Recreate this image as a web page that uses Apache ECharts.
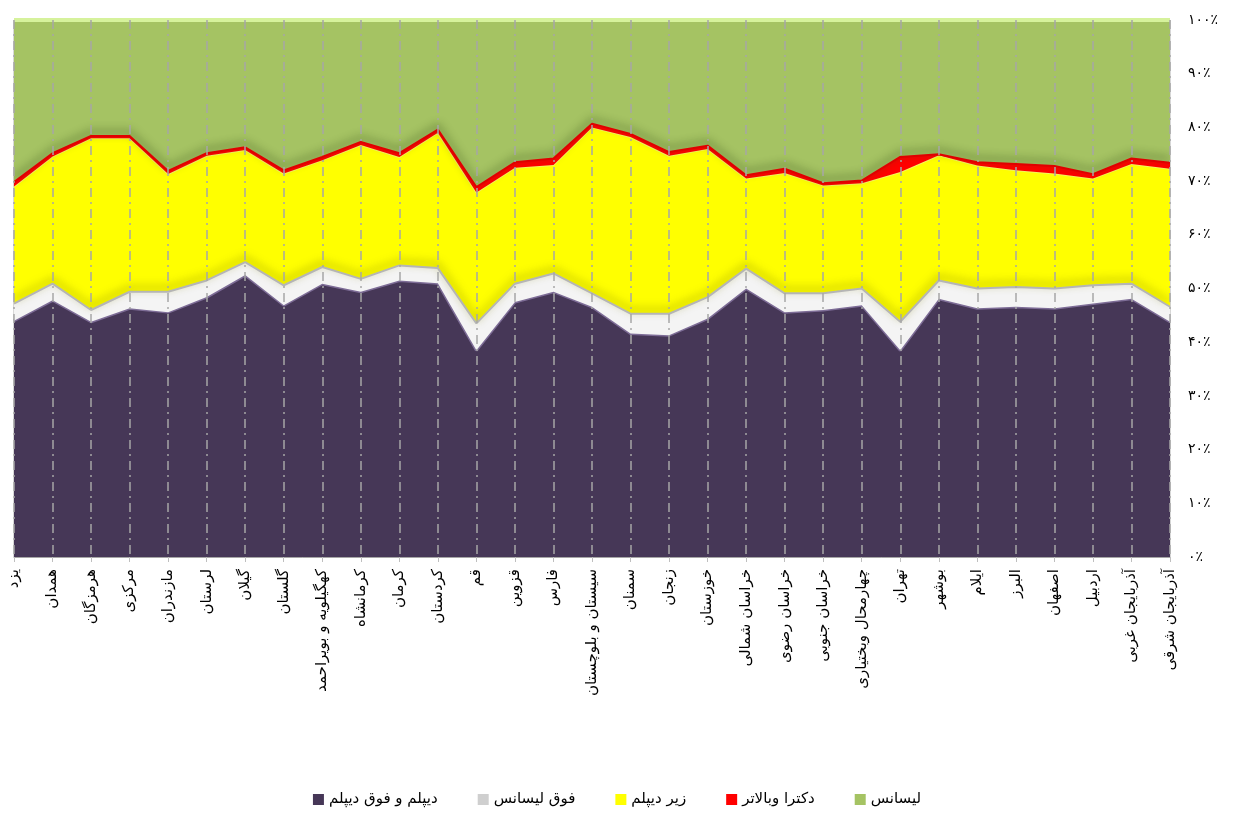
<!DOCTYPE html>
<html>
<head>
<meta charset="utf-8">
<title>chart</title>
<script src="https://cdn.jsdelivr.net/npm/echarts@6/dist/echarts.min.js"></script>
<style>
	html, body { margin: 0; padding: 0; background: #FFFFFF; }
	#div1 { width: 1234px; height: 820px; }
</style>
</head>
<body>
<div id="div1"></div>
<script>
	// استان ها
	var provinces = [ 'یزد', 'همدان', 'هرمزگان', 'مرکزی', 'مازندران', 'لرستان', 'گیلان', 'گلستان', 'کهگیلویه و بویراحمد', 'کرمانشاه', 'کرمان', 'کردستان', 'قم', 'قزوین', 'فارس',
			'سیستان و بلوچستان', 'سمنان', 'زنجان', 'خوزستان', 'خراسان شمالی', 'خراسان رضوی', 'خراسان جنوبی', 'چهارمحال وبختیاری', 'تهران', 'بوشهر', 'ایلام', 'البرز', 'اصفهان',
			'اردبیل', 'آذربایجان غربی', 'آذربایجان شرقی' ];
	var seriesNames = [ 'دیپلم و فوق دیپلم', 'فوق لیسانس', 'زیر دیپلم', 'دکترا وبالاتر', 'لیسانس' ];
	// درصدها (سهم هر گروه)
	var arr_diplom = [ 44.0, 47.8, 43.8, 46.3, 45.6, 48.4, 52.5, 46.9, 50.9, 49.4, 51.5, 51.0, 38.5, 47.5, 49.4, 46.6, 41.6, 41.3, 44.4, 50.0, 45.6, 46.0, 46.9, 38.5, 48.1, 46.3, 46.6, 46.3, 47.2,
			48.1, 43.8 ];
	var arr_foghLisans = [ 3.2, 3.1, 2.2, 3.1, 3.8, 3.1, 2.4, 3.7, 3.1, 2.4, 2.8, 2.8, 5.0, 3.4, 3.4, 2.5, 3.7, 4.0, 4.0, 3.7, 3.5, 3.1, 3.1, 5.3, 3.4, 3.7, 3.7, 3.7, 3.4, 2.8, 2.8 ];
	var arr_zirDiplom = [ 21.8, 23.7, 32.0, 28.6, 21.9, 23.2, 20.9, 20.8, 19.9, 24.9, 20.2, 25.2, 24.4, 21.6, 20.2, 30.9, 32.9, 29.4, 27.6, 16.8, 22.4, 20.1, 19.6, 27.9, 23.3, 22.9, 21.7, 21.4,
			19.9, 22.3, 25.7 ];
	var arr_doktora = [ 0.8, 0.6, 0.4, 0.4, 0.6, 0.5, 0.5, 0.6, 0.6, 0.6, 0.7, 0.6, 1.0, 1.0, 1.2, 0.7, 0.6, 0.7, 0.6, 0.6, 0.8, 0.4, 0.5, 2.8, 0.2, 0.6, 1.2, 1.4, 0.8, 1.0, 1.1 ];
	var arr_lisans = [ 30.2, 24.8, 21.6, 21.6, 28.1, 24.8, 23.7, 28.0, 25.5, 22.7, 24.8, 20.4, 31.1, 26.5, 25.8, 19.3, 21.2, 24.6, 23.4, 28.9, 27.7, 30.4, 29.9, 25.5, 25.0, 26.5, 26.8, 27.2,
			28.7, 25.8, 26.6 ];
	var yLabels = [ '۰٪', '۱۰٪', '۲۰٪', '۳۰٪', '۴۰٪', '۵۰٪', '۶۰٪', '۷۰٪', '۸۰٪', '۹۰٪', '۱۰۰٪' ];

	var fontName = 'DejaVu Sans';

	// سری مساحتی انباشته با لبه سایه دار
	function makeSeries(name, data, fill, legendColor, edge, edgeWidth, shadow, z) {
		return {
			name : name,
			type : 'line',
			stack : 'total',
			data : data,
			symbol : 'none',
			z : z,
			lineStyle : {
				color : edge,
				width : edgeWidth,
				shadowColor : shadow || 'rgba(0,0,0,0)',
				shadowBlur : shadow ? 8 : 0,
				shadowOffsetY : shadow ? -4 : 0
			},
			areaStyle : {
				color : fill,
				opacity : 1
			},
			itemStyle : {
				color : legendColor,
				borderWidth : 0
			}
		};
	}

	var option = {
		backgroundColor : '#FFFFFF',
		animation : false,
		textStyle : {
			fontFamily : fontName
		},
		legend : {
			data : seriesNames,
			bottom : 8,
			left : 'center',
			itemWidth : 11,
			itemHeight : 11,
			itemGap : 40,
			icon : 'rect',
			textStyle : {
				fontFamily : fontName,
				fontSize : 15,
				color : '#000000'
			}
		},
		grid : {
			show : true,
			left : 14,
			right : 64,
			top : 20,
			bottom : 263,
			borderColor : '#B0B0B0',
			borderWidth : 1,
			containLabel : false
		},
		xAxis : [ {
			type : 'category',
			data : provinces,
			boundaryGap : false,
			z : 10,
			axisLine : {
				lineStyle : {
					color : '#A6A6A6'
				}
			},
			axisTick : {
				show : true,
				length : 5,
				lineStyle : {
					color : '#BFBFBF'
				}
			},
			axisLabel : {
				rotate : 90,
				margin : 12,
				interval : 0,
				fontFamily : fontName,
				fontSize : 15,
				color : '#000000'
			},
			splitLine : {
				show : true,
				lineStyle : {
					color : '#A6A6A6',
					width : 1.5,
					type : [ 9, 5, 2, 5 ]
				}
			}
		} ],
		yAxis : [ {
			type : 'value',
			position : 'right',
			min : 0,
			max : 100,
			interval : 10,
			axisLine : {
				show : false
			},
			axisTick : {
				show : false
			},
			splitLine : {
				show : false
			},
			axisLabel : {
				margin : 18,
				fontFamily : fontName,
				fontSize : 14,
				color : '#000000',
				formatter : function(v) {
					return yLabels[Math.round(v / 10)];
				}
			}
		} ],
		series : [ makeSeries(seriesNames[0], arr_diplom, '#463757', '#463757', '#7D6C96', 3, null, 2),
				makeSeries(seriesNames[1], arr_foghLisans, '#F4F4F4', '#CFCFCF', '#B5B5B5', 2, 'rgba(130,130,0,0.85)', 4),
				makeSeries(seriesNames[2], arr_zirDiplom, '#FFFF00', '#FFFF00', '#F5F560', 2, null, 2),
				makeSeries(seriesNames[3], arr_doktora, '#FF0000', '#FF0000', '#E00000', 2, 'rgba(50,75,20,0.9)', 4),
				makeSeries(seriesNames[4], arr_lisans, '#A5C363', '#A5C363', '#D6F29C', 4, null, 2) ]
	};

	var mychart = echarts.init(document.getElementById('div1'));
	mychart.setOption(option);
</script>
</body>
</html>
